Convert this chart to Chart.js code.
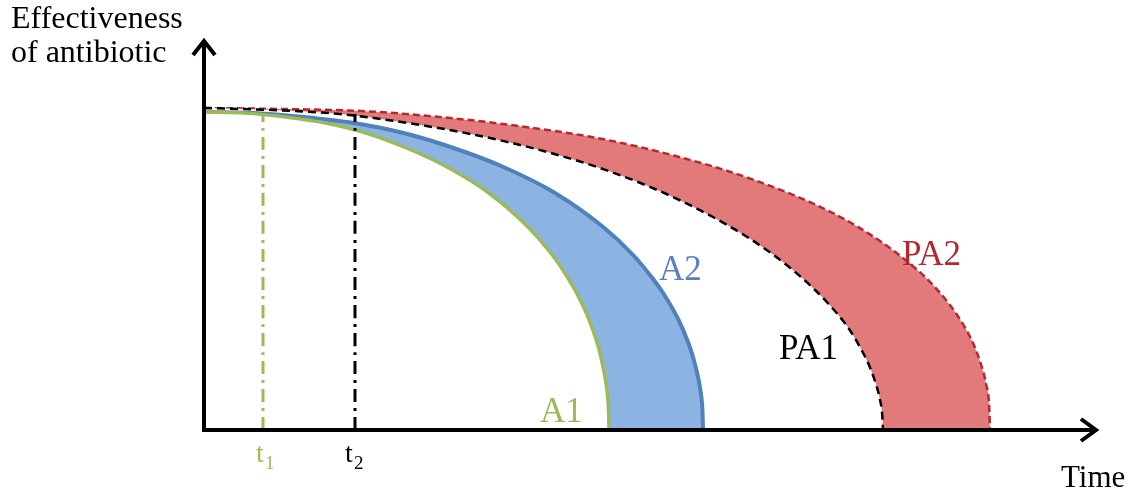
<!DOCTYPE html>
<html lang="en">
<head>
<meta charset="UTF-8" />
<title>Effectiveness of antibiotic</title>
<script src="https://cdn.jsdelivr.net/npm/chart.js"></script>
<style>
  html, body { margin: 0; padding: 0; background: #fff; }
  #wrap { width: 1141px; height: 489px; position: relative; }
</style>
</head>
<body>
<div id="wrap"><canvas id="chart"></canvas></div>
<script>
// values: time (x) and effectiveness (y)
const a1Time = [0, 40.5, 81, 121.5, 162, 202.5, 243, 283.5, 324, 348.3, 364.5, 372.6, 384.8, 392.9, 396.9, 401, 403, 404.6, 405];
const a1Eff  = [318, 317, 313, 307, 297, 282, 263, 238, 203, 175, 151, 137, 111, 88, 73, 53, 39, 18, 0];

const a2Time = [0, 49.9, 99.8, 149.7, 199.6, 249.5, 299.4, 349.3, 399.2, 429.1, 449.1, 459.1, 474.1, 484, 489, 494, 496.5, 498.5, 499];
const a2Eff  = [318, 317, 313, 307, 297, 282, 263, 238, 203, 175, 151, 137, 111, 88, 73, 53, 39, 18, 0];

const pa1Time = [0, 67.9, 135.8, 203.7, 271.6, 339.5, 407.4, 475.3, 543.2, 583.9, 611.1, 624.7, 645.1, 658.6, 665.4, 672.2, 675.6, 678.3, 679];
const pa1Eff  = [322, 320, 316, 307, 295, 279, 258, 230, 193, 164, 140, 126, 101, 78, 64, 45, 32, 14, 0];

const pa2Time = [0, 78.6, 157.2, 235.8, 314.4, 393, 471.6, 550.2, 628.8, 676, 707.4, 723.1, 746.7, 762.4, 770.3, 778.1, 782.1, 785.2, 786];
const pa2Eff  = [322, 321, 319, 313, 304, 292, 274, 250, 217, 189, 165, 151, 124, 100, 84, 62, 46, 23, 0];

const t1Time = [59, 59];
const t1Eff  = [0, 315];
const t2Time = [151, 151];
const t2Eff  = [0, 316];

const xMax = 893;
const yMax = 390;

function pts(xs, ys) {
  return xs.map((x, i) => ({ x: x, y: ys[i] }));
}

const green = '#9bbb59';
const blue = '#4f81bd';

// axes with arrow heads + text labels
const decor = {
  id: 'decor',
  afterDatasetsDraw(chart) {
    const ctx = chart.ctx;
    const a = chart.chartArea;
    ctx.save();
    ctx.strokeStyle = '#000';
    ctx.lineWidth = 4;
    ctx.beginPath();
    ctx.moveTo(a.left, a.bottom + 2);
    ctx.lineTo(a.left, a.top + 2);
    ctx.moveTo(a.left - 2, a.bottom);
    ctx.lineTo(a.right - 2, a.bottom);
    ctx.stroke();
    ctx.beginPath();
    ctx.moveTo(a.left - 11, a.top + 15);
    ctx.lineTo(a.left, a.top + 1);
    ctx.lineTo(a.left + 11, a.top + 15);
    ctx.moveTo(a.right - 16, a.bottom - 11);
    ctx.lineTo(a.right - 1, a.bottom);
    ctx.lineTo(a.right - 16, a.bottom + 11);
    ctx.stroke();

    ctx.textBaseline = 'alphabetic';
    ctx.font = '32px "Liberation Serif", serif';
    ctx.fillStyle = '#000';
    ctx.fillText('Effectiveness', 11, 28);
    ctx.fillText('of antibiotic', 11, 62);
    ctx.font = '31px "Liberation Serif", serif';
    ctx.fillText('Time', 1061, 487);

    ctx.font = '35px "Liberation Serif", serif';
    ctx.fillStyle = green;
    ctx.fillText('A1', 540, 422);
    ctx.fillStyle = '#5b80c0';
    ctx.fillText('A2', 659, 280);
    ctx.fillStyle = '#000';
    ctx.fillText('PA1', 779, 359);
    ctx.fillStyle = '#b5272d';
    ctx.fillText('PA2', 902, 265);

    ctx.font = '28px "Liberation Serif", serif';
    ctx.fillStyle = green;
    ctx.fillText('t', 256, 462);
    ctx.fillStyle = '#000';
    ctx.fillText('t', 345, 462);
    ctx.font = '19px "Liberation Serif", serif';
    ctx.fillStyle = green;
    ctx.fillText('1', 265, 469);
    ctx.fillStyle = '#000';
    ctx.fillText('2', 354, 469);
    ctx.restore();
  }
};

new Chart(document.getElementById('chart'), {
  type: 'line',
  data: {
    datasets: [
      {
        label: 'PA2',
        data: pts(pa2Time, pa2Eff),
        borderColor: '#b8282e',
        borderWidth: 2.5,
        borderDash: [7, 4],
        backgroundColor: '#e27a7b',
        fill: 'origin',
        order: 6
      },
      {
        label: 'PA1',
        data: pts(pa1Time, pa1Eff),
        borderColor: '#000',
        borderWidth: 2.5,
        borderDash: [8, 5],
        backgroundColor: '#fff',
        fill: 'origin',
        order: 5
      },
      {
        label: 'A2',
        data: pts(a2Time, a2Eff),
        borderColor: blue,
        borderWidth: 4,
        backgroundColor: '#8db3e2',
        fill: 'origin',
        order: 4
      },
      {
        label: 'A1',
        data: pts(a1Time, a1Eff),
        borderColor: green,
        borderWidth: 3.5,
        backgroundColor: '#fff',
        fill: 'origin',
        order: 3
      },
      {
        label: 't1',
        data: pts(t1Time, t1Eff),
        borderColor: green,
        borderWidth: 3,
        borderDash: [13, 6, 3, 6],
        fill: false,
        order: 2
      },
      {
        label: 't2',
        data: pts(t2Time, t2Eff),
        borderColor: '#000',
        borderWidth: 3,
        borderDash: [13, 6, 3, 6],
        fill: false,
        order: 1
      }
    ]
  },
  options: {
    responsive: true,
    maintainAspectRatio: false,
    animation: false,
    layout: { padding: { left: 204, right: 44, top: 40, bottom: 59 } },
    elements: {
      point: { radius: 0, hoverRadius: 0 },
      line: { cubicInterpolationMode: 'monotone' }
    },
    scales: {
      x: { type: 'linear', min: 0, max: xMax, display: false },
      y: { type: 'linear', min: 0, max: yMax, display: false }
    },
    plugins: {
      legend: { display: false },
      tooltip: { enabled: false }
    }
  },
  plugins: [decor]
});
</script>
</body>
</html>
